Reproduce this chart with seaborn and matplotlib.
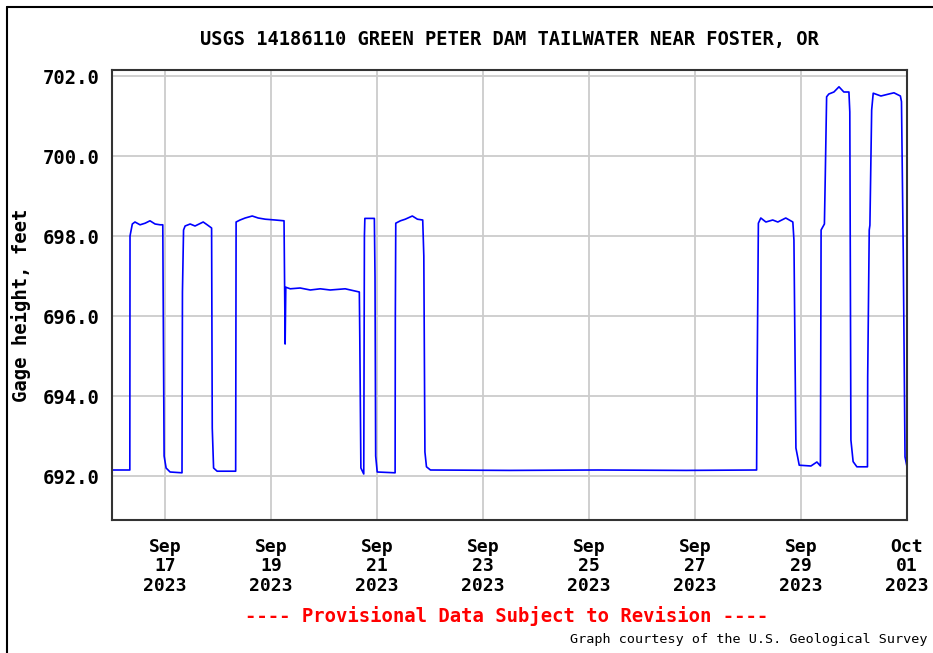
import numpy as np
import pandas as pd
import matplotlib
matplotlib.use("Agg")
import matplotlib.pyplot as plt
import matplotlib.dates as mdates
from matplotlib.lines import Line2D
import seaborn as sns

# hours after 2023-09-16 00:00 (local)
hours = [0.0, 8.07, 8.16, 9.2, 10.4, 12.7, 15.0, 17.2, 19.5, 21.8, 23.0,
         23.3, 23.6, 24.5, 26.3, 31.7,
         31.9, 32.4, 33.1, 35.4, 37.6, 41.3, 43.1, 45.1,
         45.4, 46.0, 47.6, 56.0,
         56.2, 58.0, 60.3, 63.5, 66.2, 69.4, 73.9, 77.9,
         78.4, 78.7, 80.7, 85.2, 89.8, 94.3, 98.8, 105.6, 112.0,
         112.2, 112.7, 114.0, 114.3, 114.5, 118.8,
         119.1, 119.4, 120.1, 128.2,
         128.3, 128.5, 130.6, 132.8, 136.0, 138.3, 140.7,
         141.2, 141.7, 142.4, 144.2, 180.0, 220.0, 260.0, 291.9,
         292.1, 292.7, 293.8, 296.1, 299.2, 301.5, 305.1, 308.3,
         308.8, 309.7, 311.2, 316.5, 319.2, 320.8,
         321.1, 322.6, 323.0, 323.6, 324.6, 326.9, 329.2, 331.4, 333.7,
         334.1, 334.6, 335.6, 337.3, 342.1,
         342.2, 342.9, 343.2, 344.0, 344.7, 348.2, 351.8, 354.1, 357.0,
         357.5, 358.3, 359.1, 360.0]
gage_ft = [692.15, 692.15, 698.0, 698.3, 698.35, 698.28, 698.32, 698.38, 698.3, 698.28, 698.28,
           695.3, 692.5, 692.2, 692.1, 692.08,
           696.6, 698.15, 698.25, 698.3, 698.25, 698.35, 698.28, 698.2,
           693.2, 692.2, 692.12, 692.12,
           698.35, 698.4, 698.45, 698.5, 698.45, 698.42, 698.4, 698.38,
           695.3, 696.72, 696.68, 696.7, 696.65, 696.68, 696.65, 696.68, 696.6,
           695.5, 692.2, 692.05, 698.0, 698.44, 698.44,
           696.98, 692.5, 692.1, 692.08,
           696.0, 698.32, 698.38, 698.42, 698.5, 698.42, 698.4,
           697.5, 692.6, 692.23, 692.15, 692.14, 692.15, 692.14, 692.15,
           694.19, 698.32, 698.45, 698.35, 698.4, 698.35, 698.45, 698.35,
           697.9, 692.7, 692.27, 692.25, 692.35, 692.25,
           698.15, 698.3, 699.52, 701.48, 701.55, 701.6, 701.73, 701.6, 701.6,
           701.1, 692.9, 692.36, 692.23, 692.23,
           694.48, 698.15, 698.27, 701.15, 701.57, 701.5, 701.55, 701.58, 701.5,
           701.36, 697.6, 692.48, 692.23]

tick_days = ["2023-09-17", "2023-09-19", "2023-09-21", "2023-09-23",
             "2023-09-25", "2023-09-27", "2023-09-29", "2023-10-01"]
tick_labels = ["Sep\n17\n2023", "Sep\n19\n2023", "Sep\n21\n2023", "Sep\n23\n2023",
               "Sep\n25\n2023", "Sep\n27\n2023", "Sep\n29\n2023", "Oct\n01\n2023"]
y_ticks = [692, 694, 696, 698, 700, 702]

start = pd.Timestamp("2023-09-16 00:00")
df = pd.DataFrame({"time": start + pd.to_timedelta(hours, unit="h"), "gage": gage_ft})

sns.set_style("white")
plt.rcParams['font.family'] = ['DejaVu Sans Mono', 'DejaVu Sans']
plt.rcParams['text.color'] = 'black'
plt.rcParams['xtick.color'] = 'black'
plt.rcParams['ytick.color'] = 'black'
plt.rcParams['axes.labelcolor'] = 'black'

fig = plt.figure(figsize=(9.33, 6.53), dpi=100)
ax = fig.add_axes([112/933, 1 - 520/653, (907 - 112)/933, (520 - 70)/653])

sns.lineplot(data=df, x="time", y="gage", ax=ax, color="#0000ff", linewidth=1.2)

ax.set_xlim(start, pd.Timestamp("2023-10-01 00:00"))
ax.set_ylim(690.9, 702.15)
ax.set_yticks(y_ticks)
ax.set_yticklabels([f"{v:.1f}" for v in y_ticks], fontsize=13.6, fontweight="bold")
ax.set_xticks(pd.to_datetime(tick_days))
ax.set_xticklabels(tick_labels, fontsize=13, fontweight="bold", linespacing=1.1)
ax.tick_params(axis="both", length=0)
ax.tick_params(axis="x", pad=13)
ax.tick_params(axis="y", pad=9)
ax.grid(True, color="#cccccc", linewidth=1.3)
ax.set_axisbelow(True)
for s in ax.spines.values():
    s.set_color("#333333")
    s.set_linewidth(1.5)

ax.set_xlabel("")
ax.set_ylabel("Gage height, feet", fontsize=13.6, fontweight="bold")
ax.yaxis.set_label_coords(-0.102, 0.478)

fig.text(509/933, 1 - 40/653, "USGS 14186110 GREEN PETER DAM TAILWATER NEAR FOSTER, OR",
         ha="center", va="center", fontsize=13.5, fontweight="bold")
fig.text(507/933, 1 - 616/653, "---- Provisional Data Subject to Revision ----",
         ha="center", va="center", fontsize=13.6, fontweight="bold", color="#ff0000")
fig.text(928/933, 1 - 640/653, "Graph courtesy of the U.S. Geological Survey",
         ha="right", va="center", fontsize=9.7)

# outer frame (left and top edges visible)
fig.add_artist(Line2D([7/933, 7/933], [0, 1 - 7/653], transform=fig.transFigure, color="black", linewidth=1.5))
fig.add_artist(Line2D([7/933, 1], [1 - 7/653, 1 - 7/653], transform=fig.transFigure, color="black", linewidth=1.5))

fig.savefig("out.png", dpi=100)
